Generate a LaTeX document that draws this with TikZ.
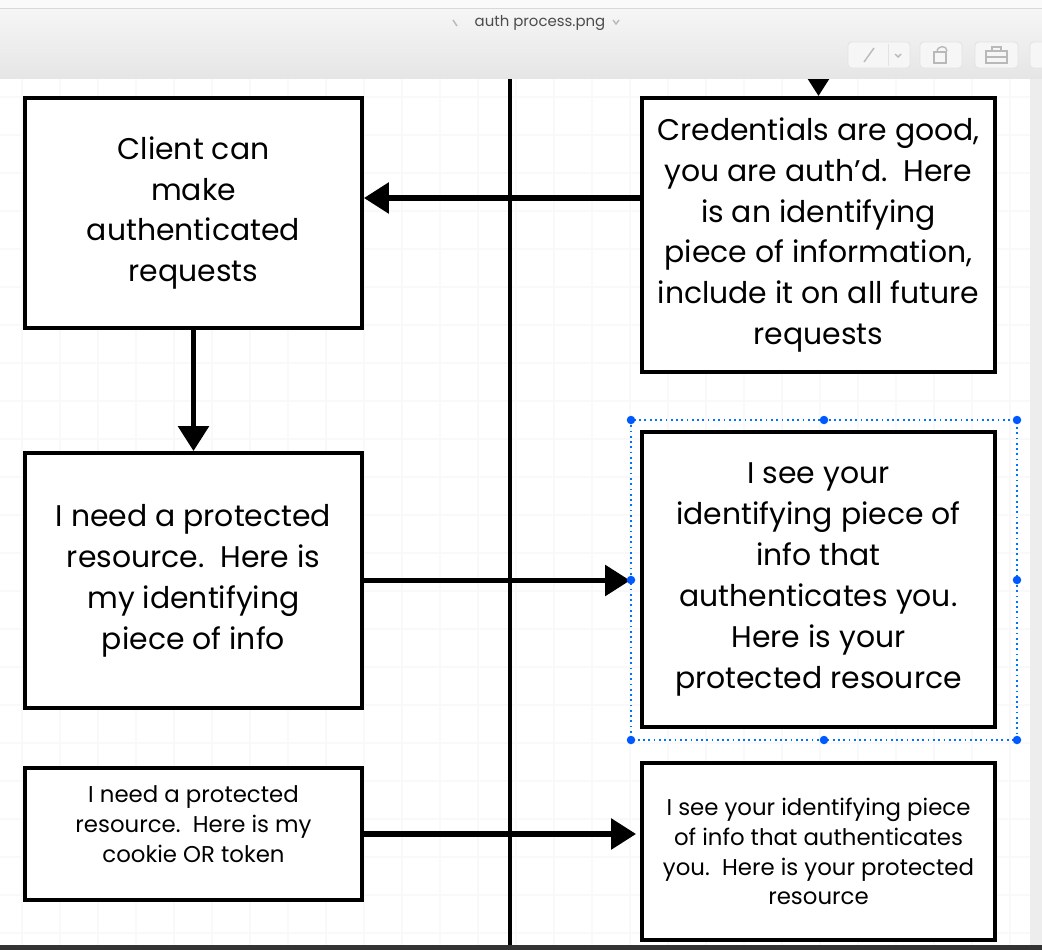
\documentclass[tikz,border=0pt]{standalone}
\usepackage{fontspec}
\setmainfont{Poppins}
\usetikzlibrary{arrows.meta}

\begin{document}
\begin{tikzpicture}[x=0.02cm, y=-0.02cm,
    box/.style={draw, line width=2.2pt, fill=white, align=center, inner sep=0pt,
      font=\fontsize{17}{23.3}\selectfont},
    smallbox/.style={box, font=\fontsize{13}{17}\selectfont},
    flow/.style={line width=3.2pt, -{Triangle[length=0.5cm, width=0.6cm]}},
    gridline/.style={gray!5, line width=0.6pt},
    handle/.style={circle, fill=blue!65!cyan, inner sep=0pt, minimum size=0.17cm},
    button/.style={draw=gray!22, fill=white!93!gray, rounded corners=2pt, line width=0.5pt},
    icon/.style={gray!55, line width=0.8pt}]
    \useasboundingbox (0,0) rectangle (1042,950);
    \clip (0,0) rectangle (1042,950);

    % canvas
    \fill[white] (0,78) rectangle (1030,945);
    \foreach \x in {22,60,...,1022} {
      \draw[gridline] (\x,78) -- (\x,945);
    }
    \foreach \y in {97,135,...,935} {
      \draw[gridline] (0,\y) -- (1030,\y);
    }
    \fill[gray!14] (1030,78) rectangle (1042,945);
    \draw[line width=2pt] (510,78) -- (510,945);

    % boxes
    \node[box, minimum width=6.74cm, minimum height=4.6cm] (client) at (193.5,213)
      {Client can\\make\\authenticated\\requests};
    \node[box, minimum width=7.06cm, minimum height=5.48cm] (creds) at (818.5,235)
      {Credentials are good,\\you are auth'd.\ \ Here\\is an identifying\\piece of information,\\include it on all future\\requests};
    \node[box, minimum width=6.74cm, minimum height=5.1cm] (request) at (193.5,580.5)
      {I need a protected\\resource.\ \ Here is\\my identifying\\piece of info};
    \node[box, minimum width=7.06cm, minimum height=5.9cm] (resource) at (818.5,579.5)
      {I see your\\identifying piece of\\info that\\authenticates you.\\Here is your\\protected resource};
    \node[smallbox, minimum width=6.74cm, minimum height=2.64cm] (cookie) at (193.5,834)
      {I need a protected\\resource.\ \ Here is my\\cookie OR token\\[-0.2cm]};
    \node[smallbox, minimum width=7.06cm, minimum height=3.54cm] (answer) at (818.5,851.5)
      {I see your identifying piece\\of info that authenticates\\you.\ \ Here is your protected\\resource};

    % arrows
    \coordinate (above) at (818.5,40);
    \draw[flow] (above) -- (creds.north);
    \draw[flow] ([yshift=0.74cm]creds.west) -- ([yshift=0.74cm]creds.west -| client.east);
    \draw[flow] (client.south) -- (request.north);
    \draw[flow] (request.east) -- ([xshift=-0.2cm]request.east -| resource.west);
    \draw[flow] (cookie.east) -- ([xshift=-0.08cm]cookie.east -| answer.west);

    % selection
    \draw[blue!55!cyan, dotted, line width=1pt] (631,420) rectangle (1017,740);
    \foreach \x/\y in {631/420, 824/420, 1017/420, 631/580, 1017/580, 631/740, 824/740, 1017/740} {
      \node[handle] (h-\x-\y) at (\x,\y) {};
    }

    % window chrome
    \fill[gray!4] (0,0) rectangle (1042,8);
    \shade[top color=gray!7, bottom color=gray!20] (0,8) rectangle (1042,78);
    \draw[gray!30] (0,8) -- (1042,8);
    \node[font=\fontsize{8.5}{10}\selectfont, text=gray!60!black] (title) at (540,23) {auth process.png};
    \draw[icon] (453,20) -- (457,26);
    \draw[icon] (613,20) -- (616,24) -- (619,20);

    \draw[button] (848,42) rectangle (910,68);
    \draw[gray!22] (888,44) -- (888,66);
    \draw[icon] (864,62) -- (874,48);
    \draw[icon] (895,54) -- (898,57) -- (901,54);
    \draw[button] (920,42) rectangle (962,68);
    \draw[icon] (934,52) rectangle (946,63);
    \draw[icon] (937,52) .. controls (937,45) and (947,45) .. (947,51);
    \draw[button] (975,42) rectangle (1018,68);
    \draw[icon] (986,51) rectangle (1007,63);
    \draw[icon] (992,51) -- (992,47) -- (1001,47) -- (1001,51);
    \draw[icon] (986,57) -- (1007,57);
    \draw[button] (1030,42) rectangle (1060,68);

    \fill[black!80] (0,945) rectangle (1042,950);
  \end{tikzpicture}
\end{document}
